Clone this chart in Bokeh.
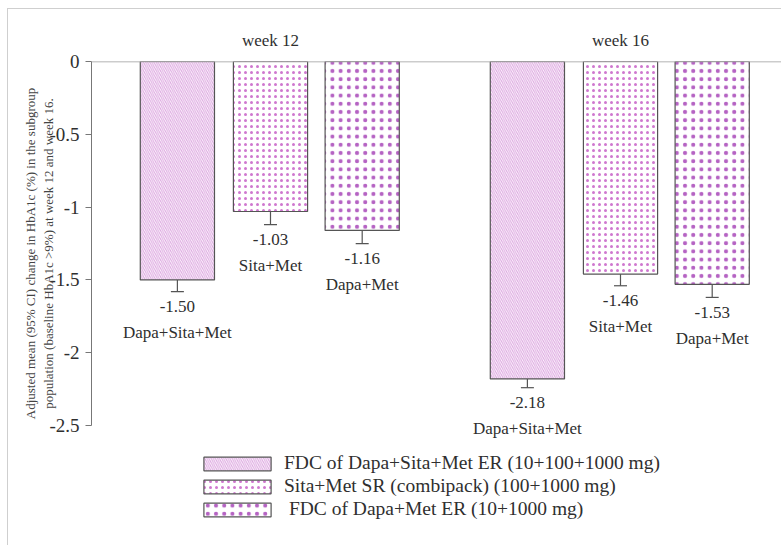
from bokeh.plotting import figure
from bokeh.layouts import column
from bokeh.models import (Range1d, FixedTicker, Span, Whisker, TeeHead, ColumnDataSource,
                          LabelSet, Legend, LegendItem)
from bokeh.embed import file_html
from bokeh.resources import INLINE

# ---------------- data ----------------
weeks = ["week 12", "week 16"]
treatments = ["Dapa+Sita+Met", "Sita+Met", "Dapa+Met"]
legend_labels = ["FDC of Dapa+Sita+Met ER (10+100+1000 mg)",
                 "Sita+Met SR (combipack) (100+1000 mg)",
                 " FDC of Dapa+Met ER (10+1000 mg)"]
mean_w12 = [-1.50, -1.03, -1.16]
mean_w16 = [-2.18, -1.46, -1.53]
lower_w12 = [-1.58, -1.12, -1.25]
lower_w16 = [-2.24, -1.54, -1.62]
y_ticks = [0, -0.5, -1, -1.5, -2, -2.5]
y_tick_labels = ["0", "-0.5", "-1", "-1.5", "-2", "-2.5"]
y_label = ("Adjusted mean (95% CI) change in HbA1c (%) in the subgroup\n"
           "population (baseline HbA1c >9%) at week 12 and week 16.")

# ---------------- layout / style ----------------
SERIF = "Liberation Serif"
TXT = "#2f2f2f"
offsets = [-0.266, 0.0, 0.262]
bar_w = 0.212

styles = [
    dict(fill_color="#fdf4fd", hatch_pattern="\\", hatch_color="#dba8df", hatch_scale=4.2, hatch_weight=1.0),
    dict(fill_color="white", hatch_pattern=".", hatch_color="#cf78cf", hatch_scale=6, hatch_weight=0.8),
    dict(fill_color="white", hatch_pattern=".", hatch_color="#a848b8", hatch_scale=8.2, hatch_weight=0.2,
         hatch_alpha=0.85),
]

p = figure(width=773, height=436, x_range=Range1d(-0.5114, 1.46), y_range=Range1d(-2.637, 0),
           output_backend="svg", toolbar_location=None, x_axis_location="above",
           min_border_left=83, min_border_right=0, min_border_top=52, min_border_bottom=0)
p.grid.visible = False
p.outline_line_color = None

# week labels on the top axis
xa = p.xaxis[0]
xa.ticker = FixedTicker(ticks=list(range(len(weeks))))
xa.major_label_overrides = {i: w for i, w in enumerate(weeks)}
xa.axis_line_color = None
xa.major_tick_line_color = None
xa.minor_tick_line_color = None
xa.major_label_standoff = 6
xa.major_label_text_font = SERIF
xa.major_label_text_font_size = "17px"
xa.major_label_text_color = TXT

ax = p.yaxis[0]
ax.ticker = FixedTicker(ticks=y_ticks)
ax.bounds = (min(y_ticks), max(y_ticks))
ax.major_label_overrides = {t: l for t, l in zip(y_ticks, y_tick_labels)}
ax.major_label_text_font = SERIF
ax.major_label_text_font_size = "19px"
ax.major_label_text_color = TXT
ax.axis_line_color = "#777777"
ax.major_tick_line_color = "#777777"
ax.major_tick_out = 6
ax.major_tick_in = 0
ax.minor_tick_line_color = None
ax.major_label_standoff = 6
ax.axis_label = y_label
ax.axis_label_text_font = SERIF
ax.axis_label_text_font_style = "normal"
ax.axis_label_text_font_size = "13px"
ax.axis_label_text_color = "#444444"
ax.axis_label_standoff = -10

p.add_layout(Span(location=0, dimension="width", line_color="#9a9a9a", line_width=1.5))

means = [mean_w12, mean_w16]
lowers = [lower_w12, lower_w16]

for i, name in enumerate(treatments):
    xs = [g + offsets[i] for g in range(len(weeks))]
    tops = [means[g][i] for g in range(len(weeks))]
    lows = [lowers[g][i] for g in range(len(weeks))]
    src = ColumnDataSource(dict(x=xs, top=tops, lower=lows,
                                vtxt=[f"{v:.2f}" for v in tops],
                                ctxt=[name] * len(weeks)))
    p.vbar(x="x", width=bar_w, top=0, bottom="top", source=src,
           line_color="#555555", line_width=1.2, **styles[i])
    p.add_layout(Whisker(source=src, base="x", upper="top", lower="lower", dimension="height",
                         line_color="#555555", line_width=1.2, upper_head=None,
                         lower_head=TeeHead(size=13, line_color="#555555", line_width=1.2)))
    p.add_layout(LabelSet(source=src, x="x", y="lower", text="vtxt", y_offset=-15,
                          text_align="center", text_baseline="middle",
                          text_font=SERIF, text_font_size="17px", text_color=TXT))
    p.add_layout(LabelSet(source=src, x="x", y="lower", text="ctxt", y_offset=-41,
                          text_align="center", text_baseline="middle",
                          text_font=SERIF, text_font_size="17px", text_color=TXT))

# ---------------- legend panel ----------------
lg = figure(width=773, height=100, x_range=Range1d(0, 1), y_range=Range1d(0, 1),
            output_backend="svg", toolbar_location=None,
            min_border_left=0, min_border_right=0, min_border_top=0, min_border_bottom=0)
lg.axis.visible = False
lg.grid.visible = False
lg.outline_line_color = None

items = []
for i, lab in enumerate(legend_labels):
    r = lg.vbar(x=[-5], width=0.1, top=[0], bottom=[0],
                line_color="#555555", line_width=1.2, **styles[i])
    items.append(LegendItem(label=lab, renderers=[r]))

legend = Legend(items=items, location=(104, 25), glyph_width=84, glyph_height=17,
                label_height=20, label_standoff=5, spacing=1, padding=0, margin=0,
                border_line_color=None, background_fill_alpha=0,
                label_text_font=SERIF, label_text_font_size="19.5px", label_text_color=TXT)
lg.add_layout(legend)

layout = column(p, lg, spacing=0)
layout.styles = {"margin-left": "7px", "margin-top": "8px",
                 "border-left": "1px solid #cfcfcf", "border-top": "1px solid #cfcfcf"}

open("out.html", "w").write(file_html(layout, INLINE))
